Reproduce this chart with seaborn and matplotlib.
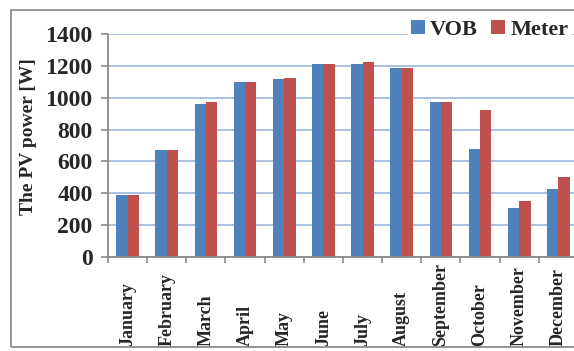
import matplotlib
matplotlib.use("Agg")
import matplotlib.pyplot as plt
from matplotlib.patches import Rectangle, Patch
import seaborn as sns
import pandas as pd
import numpy as np

months = ["January", "February", "March", "April", "May", "June",
          "July", "August", "September", "October", "November", "December"]
vob = [390, 670, 960, 1100, 1115, 1210, 1210, 1185, 975, 680, 305, 430]
meter = [390, 670, 975, 1100, 1125, 1210, 1225, 1185, 975, 920, 350, 500]
series = ["VOB", "Meter"]
colors = ["#4F81BD", "#C0504D"]
y_ticks = [0, 200, 400, 600, 800, 1000, 1200, 1400]

df = pd.DataFrame({
    "month": months * 2,
    "power": vob + meter,
    "source": [series[0]] * len(months) + [series[1]] * len(months),
})

sns.set_theme(style="white")
plt.rcParams["font.family"] = ["Liberation Serif", "DejaVu Serif"]
plt.rcParams["font.weight"] = "bold"

W, H = 574, 351
fig = plt.figure(figsize=(W / 100, H / 100), dpi=100)
fig.patch.set_facecolor("white")
ax = fig.add_axes([108 / W, (H - 257) / H, 470 / W, 223 / H])

sns.barplot(data=df, x="month", y="power", hue="source", order=months,
            hue_order=series, palette=colors, width=0.58, gap=0,
            saturation=1, edgecolor="none", linewidth=0, legend=False, ax=ax)

ax.set_xlim(-0.5, len(months) - 0.5)
ax.set_ylim(0, 1400)
ax.set_yticks(y_ticks)
ax.set_yticklabels([str(t) for t in y_ticks], fontsize=17, fontweight="bold")

ax.set_axisbelow(True)
ax.yaxis.grid(True, color="#A3BCE2", linewidth=1.3)
ax.xaxis.grid(False)

for side in ["top", "right"]:
    ax.spines[side].set_visible(False)
for side in ["left", "bottom"]:
    ax.spines[side].set_color("#8A8A8A")
    ax.spines[side].set_linewidth(1.3)

# category boundaries carry the tick marks, labels sit at the slot centres
ax.set_xticks(np.arange(-0.5, len(months), 1.0), minor=True)
ax.tick_params(axis="x", which="minor", length=4, width=1.2, color="#8A8A8A",
               direction="out", bottom=True)
ax.tick_params(axis="x", which="major", length=0, pad=64)
ax.set_xticks(range(len(months)))
ax.set_xticklabels(months, rotation=90, fontsize=13, fontweight="bold",
                   va="bottom", ha="center")
ax.tick_params(axis="y", length=5, width=1.2, color="#8A8A8A", pad=6,
               direction="out", left=True)

ax.set_xlabel("")
ax.set_ylabel("The PV power [W]", fontsize=14, fontweight="bold")
ax.yaxis.set_label_coords(-0.151, 0.54)

handles = [Patch(facecolor=c, edgecolor="none") for c in colors]
leg = fig.legend(handles, series, loc="center right",
                 bbox_to_anchor=(1.0, (H - 30) / H), ncol=2,
                 prop={"family": "Liberation Serif", "weight": "bold", "size": 16},
                 handlelength=0.6, handleheight=0.6, handletextpad=0.25,
                 columnspacing=0.6, borderpad=0.15, borderaxespad=0.1,
                 frameon=True, fancybox=False)
leg.get_frame().set_facecolor("white")
leg.get_frame().set_edgecolor("none")
leg.get_frame().set_alpha(1)

fig.patches.append(Rectangle((10.5 / W, 4 / H), 1.2, (H - 9.5 - 4) / H,
                             transform=fig.transFigure, fill=False,
                             edgecolor="#8C8C8C", linewidth=1.3))

fig.savefig("out.png", dpi=100)
